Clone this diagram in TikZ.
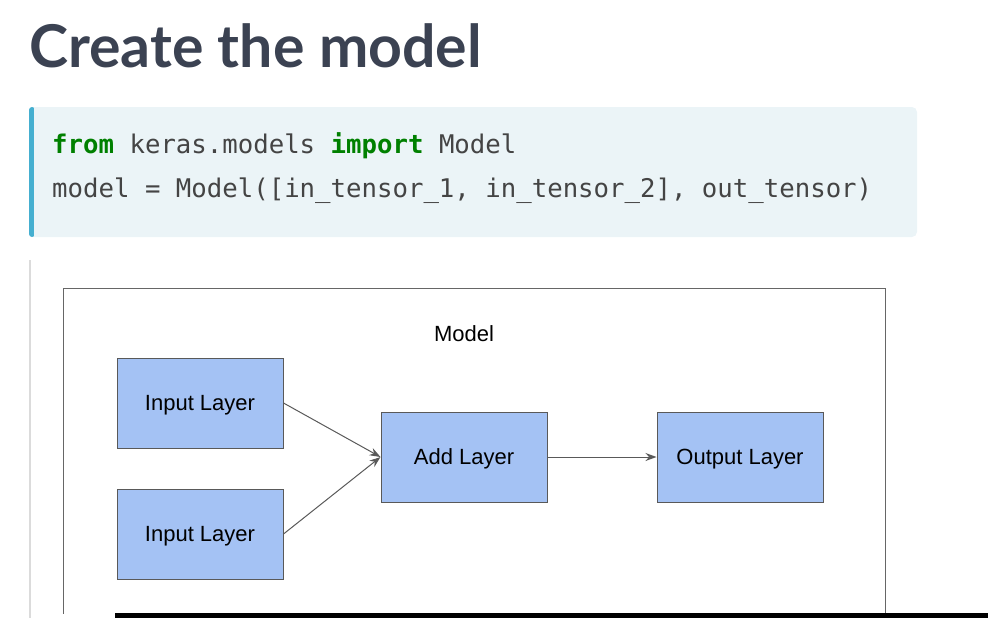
\documentclass[tikz,border=0pt]{standalone}
\usepackage{fontspec}
\setmainfont{Liberation Sans}
\setmonofont{DejaVu Sans Mono}
\newfontfamily\titlefont{Lato}
\usetikzlibrary{positioning,arrows.meta}
\definecolor{titlegray}{HTML}{3B4252}
\definecolor{codebg}{HTML}{EBF4F7}
\definecolor{codebar}{HTML}{45AFD0}
\definecolor{codetext}{HTML}{444444}
\definecolor{keyword}{HTML}{008000}
\definecolor{layerblue}{HTML}{A4C2F4}
\definecolor{edgegray}{HTML}{595959}
\tikzset{
  layer/.style={draw=edgegray,fill=layerblue,line width=1pt,minimum width=166pt,minimum height=90pt,text depth=0pt,font=\fontsize{22}{26}\selectfont},
  link/.style={draw=edgegray,line width=1pt,-{Stealth[length=11pt,width=8pt]}}
}
\newcommand{\kw}[1]{\textcolor{keyword}{\bfseries #1}}
\begin{document}
\begin{tikzpicture}[x=1pt,y=-1pt]
\useasboundingbox (0,0) rectangle (988,618);
% title
\node[anchor=base west,inner sep=0,text=titlegray,font=\titlefont\bfseries\fontsize{59}{62}\selectfont] (title) at (29,68) {Create the model};
% code block
\fill[codebg,rounded corners=5pt] (29,107) rectangle (917,237);
\fill[codebar,rounded corners=3pt] (29,107) rectangle (35,237);
\fill[codebg] (34,107) rectangle (40,237);
\node[anchor=base west,inner sep=0,text=codetext,font=\ttfamily\fontsize{25.7}{30}\selectfont] (line1) at (52,153) {\kw{from} keras.models \kw{import} Model};
\node[anchor=base west,inner sep=0,text=codetext,font=\ttfamily\fontsize{25.7}{30}\selectfont] (line2) at (52,197) {model = Model([in\_tensor\_1, in\_tensor\_2], out\_tensor)};
% quote bar
\draw[black!14,line width=2pt] (30,260)--(30,618);
% model frame
\begin{scope}
\clip (0,0) rectangle (988,613);
\draw[black!60,line width=1pt] (63,288) rectangle (885,640);
\end{scope}
\node[text depth=0pt,font=\fontsize{22}{26}\selectfont] (model) at (464,334) {Model};
\node[layer] (in1) at (200,403) {Input Layer};
\node[layer] (in2) at (200,534) {Input Layer};
\node[layer] (add) at (464,457) {Add Layer};
\node[layer] (out) at (740,457) {Output Layer};
\draw[link] (in1.east)--(add.west);
\draw[link] (in2.east)--(add.west);
\draw[link] (add)--(out);
% bottom bar
\fill[black] (115,613) rectangle (988,618);
\end{tikzpicture}
\end{document}
